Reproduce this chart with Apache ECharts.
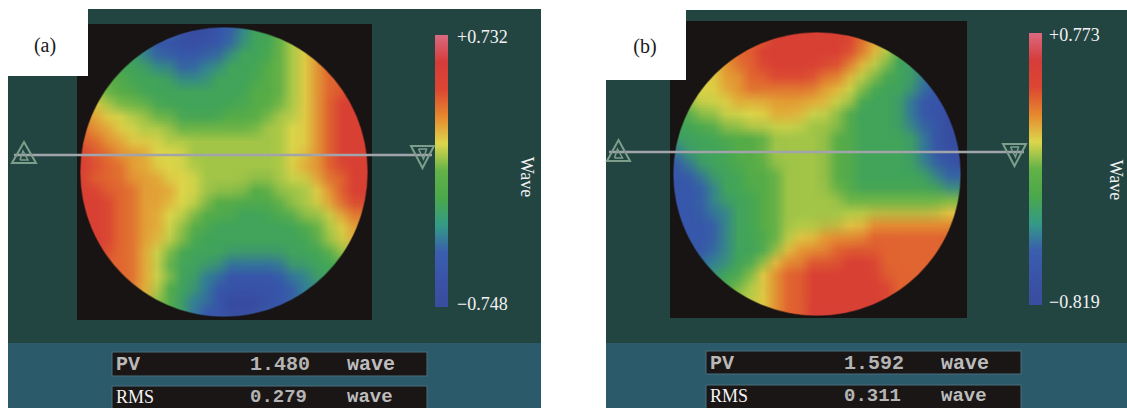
<!DOCTYPE html>
<html>
<head>
<meta charset="utf-8">
<title>Wavefront maps (a) and (b)</title>
<script src="https://cdn.jsdelivr.net/npm/echarts@6.0.0/dist/echarts.min.js"></script>
<style>
  html, body { margin: 0; padding: 0; background: #ffffff; }
  #chart { position: relative; width: 1127px; height: 408px; overflow: hidden; background: #ffffff; }
</style>
</head>
<body>
<div id="chart"></div>
<script>
// ---------------- DATA ----------------
// Each map row is a string of colour-key digits (0 = deep blue ... 9 = red),
// read cell by cell (24 x 24 cells over the black square) from the reference.
const mapRowsA = [
  "333333221001123345678888",
  "333332110001123345678899",
  "443332111111233345678899",
  "444333221122333445678999",
  "544433332223333445678899",
  "554443333333334445678899",
  "665444333333334445678999",
  "776655443333444455678999",
  "877665554444444556678999",
  "887766655555555556678999",
  "988777666555555556678999",
  "998877666555555556778999",
  "988877766655555556678899",
  "998887776655554455567899",
  "999887776654444445567899",
  "999887766544433344556788",
  "999887765443333333445677",
  "999887765433333333345677",
  "999887654333333333334566",
  "998887643333222223333445",
  "998887653322111112233344",
  "998887643321111111223333",
  "988877543221000011223333",
  "888776543211000111223333"
];
const mapRowsB = [
  "667778899999999876433222",
  "667778889999999876433222",
  "666778899999999876433222",
  "666678899999998765332111",
  "666677889999887654332111",
  "566677888888776543332110",
  "556667777777766433321100",
  "345566667776654333321100",
  "334455666665554333321100",
  "333344445555544333332100",
  "233334445555544333332100",
  "123334445555544333332110",
  "112333444555544333333211",
  "111233444555544333333322",
  "111233344555554444444444",
  "111223344555555555555566",
  "111123344555556677777777",
  "111123344566777788888888",
  "111123334677788888888888",
  "111223346778889998888888",
  "222233467889999998888888",
  "333334567889999999888888",
  "334445567889999999888888",
  "444555667889999999888888"
];
// wave value of each colour-key digit
const keyValuesA = [-0.69, -0.53, -0.36, -0.20, -0.07, 0.07, 0.14, 0.24, 0.36, 0.53];
const keyValuesB = [-0.76, -0.58, -0.41, -0.23, -0.09, 0.06, 0.14, 0.25, 0.38, 0.55];
const scaleA = [-0.748, 0.732];
const scaleB = [-0.819, 0.773];
const scaleLabelsA = ['+0.732', '\u22120.748'];
const scaleLabelsB = ['+0.773', '\u22120.819'];
const statNames = ['PV', 'RMS'];
const statsA = ['1.480', '0.279'];
const statsB = ['1.592', '0.311'];
const statUnit = 'wave';
const scaleTitle = 'Wave';
const panelNames = ['(a)', '(b)'];
// colour bar, bottom (min) to top (max)
const rampColours = ['#3a4c9e', '#3a53a6', '#3a5eae', '#349a86', '#4aa84a', '#62b248',
                     '#dcd64c', '#e6882e', '#dc4632', '#d63c3a', '#da6a80'];

// ---------------- LAYOUT ----------------
const LAYOUTS = [
  { panel: {x: 8, y: 9, w: 533, h: 334}, lower: {x: 8, y: 343, w: 533, h: 65},
    labelBox: {x: 0, y: 0, w: 88, h: 76}, labelAt: [45, 45],
    sq: {x: 77, y: 24, w: 295, h: 296}, ell: {cx: 224, cy: 172, rx: 144, ry: 145},
    bar: {x: 435, y: 35, w: 13, h: 272}, barTextX: 457, titleAt: [527, 177],
    lineY: 155, triUp: {cx: 24, top: 142, half: 12, bottom: 163},
    triDown: {cx: 422.5, top: 146, half: 11.5, bottom: 168},
    boxes: [{x: 112, y: 352, w: 315, h: 24}, {x: 112, y: 386, w: 315, h: 24}] },
  { panel: {x: 606, y: 10, w: 521, h: 333}, lower: {x: 606, y: 343, w: 521, h: 65},
    labelBox: {x: 600, y: 0, w: 86, h: 80}, labelAt: [645, 46],
    sq: {x: 670, y: 21, w: 297, h: 297}, ell: {cx: 817, cy: 174, rx: 144, ry: 142},
    bar: {x: 1029, y: 33, w: 13, h: 272}, barTextX: 1049, titleAt: [1116, 180],
    lineY: 152, triUp: {cx: 618.5, top: 140, half: 11.5, bottom: 161},
    triDown: {cx: 1014.5, top: 144, half: 11.5, bottom: 166},
    boxes: [{x: 706, y: 351, w: 315, h: 23}, {x: 706, y: 385, w: 315, h: 24}] }
];

const PANELS = [
  { rows: mapRowsA, keys: keyValuesA, scale: scaleA, labels: scaleLabelsA, stats: statsA, name: panelNames[0], L: LAYOUTS[0] },
  { rows: mapRowsB, keys: keyValuesB, scale: scaleB, labels: scaleLabelsB, stats: statsB, name: panelNames[1], L: LAYOUTS[1] }
];

// ---------------- MAPS: ECharts heatmap, one pixel per cell, then shown scaled up ----------------
function toCells(rows, keys) {
  const out = [];
  rows.forEach(function (s, r) {
    for (let c = 0; c < s.length; c++) out.push([c, r, keys[+s[c]]]);
  });
  return out;
}
function renderHeatmap(P) {
  const n = P.rows[0].length, m = P.rows.length;
  const div = document.createElement('div');
  div.style.cssText = 'position:absolute;left:-400px;top:0;width:' + n + 'px;height:' + m + 'px;';
  document.body.appendChild(div);
  const ch = echarts.init(div, null, { renderer: 'canvas', devicePixelRatio: 1, width: n, height: m });
  ch.setOption({
    animation: false,
    grid: { left: 0, top: 0, right: 0, bottom: 0 },
    xAxis: { type: 'category', show: false, data: P.rows[0].split('').map(function (_, c) { return String(c); }) },
    yAxis: { type: 'category', show: false, inverse: true, data: P.rows.map(function (_, r) { return String(r); }) },
    visualMap: { type: 'continuous', show: false, min: P.scale[0], max: P.scale[1], inRange: { color: rampColours } },
    series: [{ type: 'heatmap', silent: true, itemStyle: { borderWidth: 0 }, emphasis: { disabled: true },
               data: toCells(P.rows, P.keys) }]
  });
  return ch.getDataURL({ type: 'png', pixelRatio: 1, backgroundColor: '#191414' });
}

// ---------------- FRAME, COLOUR BARS, TEXT ----------------
const SERIF = '"Liberation Serif", "Times New Roman", serif';
const MONO = '"Liberation Mono", "Courier New", monospace';

function rect(x, y, w, h, style, z) {
  return { type: 'rect', silent: true, z: z, shape: { x: x, y: y, width: w, height: h }, style: style };
}
function text(x, y, str, font, fill, align, z, rotation) {
  const e = { type: 'text', silent: true, z: z || 6, x: x, y: y,
    style: { text: str, font: font, fill: fill,
      align: align, textAlign: align, verticalAlign: 'middle', textVerticalAlign: 'middle' } };
  if (rotation) e.rotation = rotation;
  return e;
}
function framePoints(s, e) {
  const pts = [[s.x, s.y], [s.x + s.w, s.y], [s.x + s.w, s.y + s.h], [s.x, s.y + s.h], [s.x, e.cy]];
  const N = 240;
  for (let i = 0; i <= N; i++) {
    const t = Math.PI - 2 * Math.PI * i / N;
    pts.push([e.cx + e.rx * Math.cos(t), e.cy + e.ry * Math.sin(t)]);
  }
  pts.push([s.x, e.cy]);
  return pts;
}

function panelElements(P) {
  const L = P.L, s = L.sq, el = [];
  const p = L.panel;
  el.push(rect(p.x, p.y, p.w, p.h, { fill: '#234542' }, 0));
  el.push(rect(L.lower.x, L.lower.y, L.lower.w, L.lower.h, { fill: '#2b5a6b' }, 0));
  el.push({ type: 'image', silent: true, z: 1,
            style: { image: renderHeatmap(P), x: s.x, y: s.y, width: s.w, height: s.h } });
  el.push({ type: 'polygon', silent: true, z: 2, shape: { points: framePoints(s, L.ell) },
            style: { fill: '#191414' } });
  el.push({ type: 'ellipse', silent: true, z: 2,
            shape: { cx: L.ell.cx, cy: L.ell.cy, rx: L.ell.rx, ry: L.ell.ry },
            style: { fill: 'none', stroke: 'rgba(25,20,20,0.55)', lineWidth: 1.5 } });
  // panel letter
  el.push(rect(L.labelBox.x, L.labelBox.y, L.labelBox.w, L.labelBox.h, { fill: '#ffffff' }, 3));
  el.push(text(L.labelAt[0], L.labelAt[1], P.name, '20px ' + SERIF, '#1a1a1a', 'center', 4));
  // colour bar
  const b = L.bar;
  el.push(rect(b.x, b.y, b.w, b.h, { fill: { type: 'linear', x: 0, y: 1, x2: 0, y2: 0,
    colorStops: rampColours.map(function (c, i) { return { offset: i / (rampColours.length - 1), color: c }; }) } }, 3));
  el.push(text(L.barTextX, b.y + 2, P.labels[0], '18px ' + SERIF, '#f2f2f2', 'left', 4));
  el.push(text(L.barTextX, b.y + b.h - 3, P.labels[1], '18px ' + SERIF, '#f2f2f2', 'left', 4));
  el.push(text(L.titleAt[0], L.titleAt[1], scaleTitle, '18px ' + SERIF, '#f2f2f2', 'center', 4, -Math.PI / 2));
  // profile line with markers
  const u = L.triUp, d = L.triDown, triStroke = '#7e9e8c';
  el.push({ type: 'line', silent: true, z: 5,
    shape: { x1: u.cx - u.half + 2, y1: L.lineY, x2: d.cx + d.half - 2, y2: L.lineY },
    style: { stroke: '#a2a4ab', lineWidth: 2.5 } });
  el.push({ type: 'polygon', silent: true, z: 6,
    shape: { points: [[u.cx, u.top], [u.cx + u.half, u.bottom], [u.cx - u.half, u.bottom]] },
    style: { fill: 'none', stroke: triStroke, lineWidth: 2 } });
  el.push({ type: 'polyline', silent: true, z: 6,
    shape: { points: [[u.cx - 4, u.bottom - 3], [u.cx + 4, u.bottom - 3], [u.cx - 1, u.top + 9], [u.cx - 4, u.bottom - 3]] },
    style: { fill: 'none', stroke: triStroke, lineWidth: 1.5 } });
  el.push({ type: 'polygon', silent: true, z: 6,
    shape: { points: [[d.cx - d.half, d.top], [d.cx + d.half, d.top], [d.cx, d.bottom]] },
    style: { fill: 'none', stroke: triStroke, lineWidth: 2 } });
  el.push({ type: 'polyline', silent: true, z: 6,
    shape: { points: [[d.cx - 4, d.top + 3], [d.cx + 4, d.top + 3], [d.cx + 1, d.bottom - 9], [d.cx - 4, d.top + 3]] },
    style: { fill: 'none', stroke: triStroke, lineWidth: 1.5 } });
  // PV / RMS read-outs
  L.boxes.forEach(function (bx, i) {
    el.push(rect(bx.x, bx.y, bx.w, bx.h, { fill: '#1b1616', stroke: '#4a6f7c', lineWidth: 1 }, 3));
    const cy = i === 0 ? bx.y + 12.5 : bx.y + 10.5;
    const size = i === 0 ? 20 : 19;
    if (i === 0) el.push(text(bx.x + 4, cy, statNames[i], 'bold 20px ' + MONO, '#b9b9b9', 'left', 4));
    else el.push(text(bx.x + 4, cy, statNames[i], '18px ' + SERIF, '#f4f4f4', 'left', 4));
    el.push(text(bx.x + 138, cy, P.stats[i], 'bold ' + size + 'px ' + MONO, '#b4b4b4', 'left', 4));
    el.push(text(bx.x + 235, cy, statUnit, 'bold ' + size + 'px ' + MONO, '#bdbdbd', 'left', 4));
  });
  return el;
}

let elements = [];
PANELS.forEach(function (P) { elements = elements.concat(panelElements(P)); });

const chart = echarts.init(document.getElementById('chart'), null, { renderer: 'svg' });
chart.setOption({ animation: false, graphic: { elements: elements } });
</script>
</body>
</html>
